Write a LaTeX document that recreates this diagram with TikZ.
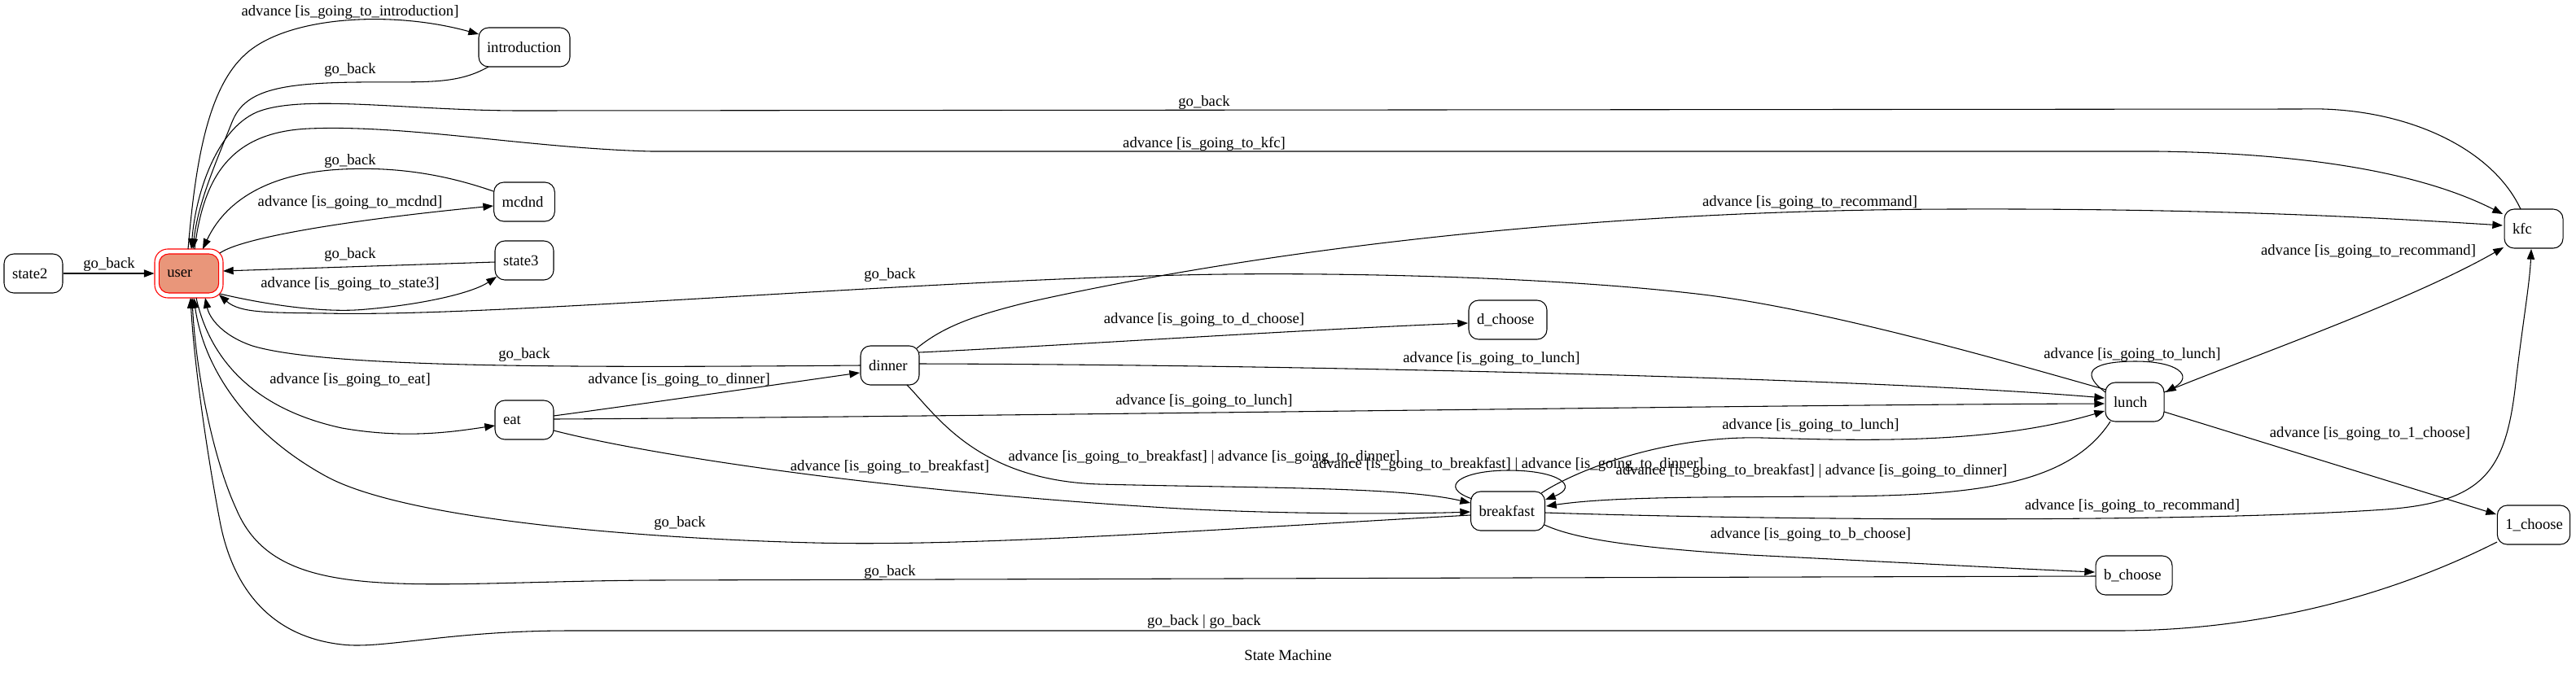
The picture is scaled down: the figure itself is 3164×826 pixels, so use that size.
\documentclass[tikz,border=0pt]{standalone}
\usepackage{fontspec}
\setmainfont{Liberation Serif}
\usetikzlibrary{arrows.meta,calc}
\definecolor{salmonfill}{HTML}{E9967A}
\newcommand\fs{\fontsize{14}{16}\selectfont}
\tikzset{
  st/.style={draw, line width=0.8pt, rounded corners=9pt, minimum height=36pt,
    inner xsep=7.5pt, inner ysep=0pt, align=left, text width=#1, font=\fs},
  st/.default=39pt,
  arr/.style={line width=0.8pt, -{Triangle[length=9.5pt,width=7pt]}},
  lbl/.style={font=\fs, inner sep=0pt},
}
\begin{document}
\begin{tikzpicture}[x=0.75pt, y=-0.75pt]
\useasboundingbox (0,0) rectangle (3164,826);
% nodes
\node[st] (state2) at (41,336) {state2};
\node[draw=red, line width=0.8pt, rounded corners=12pt, minimum width=63pt, minimum height=45pt] (user) at (232,336) {};
\node[st=40pt, draw=red, fill=salmonfill] (userin) at (232,336) {user};
\node[st=69pt] (intro) at (644,58) {introduction};
\node[st=41pt] (mcdnd) at (644,248) {mcdnd};
\node[st] (state3) at (644,320) {state3};
\node[st] (eat) at (644,516) {eat};
\node[st] (dinner) at (1093,449) {dinner};
\node[st=57pt] (dchoose) at (1852,393) {d\_choose};
\node[st=53.25pt] (breakfast) at (1852,628) {breakfast};
\node[st] (lunch) at (2622,494) {lunch};
\node[st] (kfc) at (3112,281) {kfc};
\node[st=52pt] (lchoose) at (3112,645) {1\_choose};
\node[st=55.5pt] (bchoose) at (2621,707) {b\_choose};

% edges
\draw[arr] ($(user.center)+(-1,-30)$) .. controls (240,200) and (255,110) .. (300,68) .. controls (350,20) and (480,12) .. ($(intro.center)+(-56,-16)$);
\draw[arr] ($(intro.center)+(-44,24)$) .. controls (560,105) and (520,100) .. (440,101) .. controls (340,102) and (300,112) .. (285,150) .. controls (265,200) and (243,250) .. ($(user.center)+(5,-30)$);
\draw[arr] ($(kfc.center)+(-16,-24)$) .. controls (3060,180) and (2950,130) .. (2826,134) -- (640,136) .. controls (500,136) and (370,115) .. (315,138) .. controls (265,160) and (240,240) .. ($(user.center)+(3,-30)$);
\draw[arr] ($(user.center)+(7,-30)$) .. controls (250,215) and (285,162) .. (380,158) .. controls (500,153) and (650,182) .. (800,186) -- (2650,186) .. controls (2800,188) and (2960,205) .. ($(kfc.center)+(-38,-18)$);
\draw[arr] ($(mcdnd.center)+(-38,-13)$) .. controls (540,212) and (480,205) .. (420,208) .. controls (340,212) and (280,240) .. ($(user.center)+(17,-30)$);
\draw[arr] ($(user.center)+(38,-25)$) .. controls (300,290) and (450,268) .. ($(mcdnd.center)+(-38,5)$);
\draw[arr] ($(state3.center)+(-36,2)$) -- ($(user.center)+(42,-3)$);
\draw[arr] ($(user.center)+(38,25)$) .. controls (330,375) and (400,385) .. (450,380) .. controls (520,374) and (580,360) .. ($(state3.center)+(-34,20)$);
\draw[arr] (state2.east) -- (user.west);
\draw[arr] ($(lunch.center)+(-35,-15)$) .. controls (2450,440) and (2250,383) .. (2100,363) .. controls (1900,338) and (1600,334) .. (1450,338) .. controls (1100,346) and (600,390) .. (400,385) .. controls (330,384) and (295,385) .. ($(user.center)+(37,26)$);
\draw[arr] ($(dinner.center)+(33,-21)$) .. controls (1160,400) and (1200,387) .. (1260,372) .. controls (1500,318) and (1900,258) .. (2400,257) .. controls (2700,256) and (2900,266) .. ($(kfc.center)+(-38,-4)$);
\draw[arr] ($(lunch.center)+(36,-12)$) .. controls (2760,440) and (2960,370) .. ($(kfc.center)+(-37,23)$);
\draw[arr] ($(lunch.center)+(-36,-12)$) .. controls (2550,455) and (2575,444) .. (2623,444) .. controls (2675,444) and (2695,462) .. ($(lunch.center)+(38,-12)$);
\draw[arr] ($(dinner.center)+(36,-16)$) .. controls (1300,425) and (1600,405) .. ($(dchoose.center)+(-49,4)$);
\draw[arr] ($(dinner.center)+(36,-2)$) .. controls (1600,448) and (2300,465) .. ($(lunch.center)+(-37,-5)$);
\draw[arr] ($(user.center)+(9,30)$) .. controls (255,430) and (300,500) .. (420,526) .. controls (500,540) and (560,530) .. ($(eat.center)+(-36,7)$);
\draw[arr] ($(dinner.center)+(-36,0)$) .. controls (700,452) and (400,452) .. (310,425) .. controls (272,412) and (257,390) .. ($(user.center)+(20,30)$);
\draw[arr] ($(eat.center)+(36,-5)$) .. controls (800,495) and (950,473) .. ($(dinner.center)+(-37,9)$);
\draw[arr] ($(eat.center)+(36,-1)$) .. controls (1200,512) and (2200,497) .. ($(lunch.center)+(-37,2)$);
\draw[arr] ($(eat.center)+(36,13)$) .. controls (800,560) and (1100,605) .. (1450,625) .. controls (1600,633) and (1750,631) .. ($(breakfast.center)+(-46,1)$);
\draw[arr] ($(dinner.center)+(21,24)$) .. controls (1150,510) and (1200,590) .. (1350,595) .. controls (1550,600) and (1720,598) .. ($(breakfast.center)+(-46,-10)$);
\draw[arr] ($(breakfast.center)+(-44,-15)$) .. controls (1765,598) and (1795,578) .. (1853,578) .. controls (1915,578) and (1940,598) .. ($(breakfast.center)+(46,-14)$);
\draw[arr] ($(lunch.center)+(-30,24)$) .. controls (2540,598) and (2420,609) .. (2250,610) .. controls (2100,611) and (1980,610) .. ($(breakfast.center)+(47,-6)$);
\draw[arr] ($(breakfast.center)+(41,-22)$) .. controls (1940,575) and (2050,535) .. (2165,538) .. controls (2300,542) and (2450,545) .. ($(lunch.center)+(-37,11)$);
\draw[arr] ($(breakfast.center)+(46,2)$) .. controls (2200,640) and (2700,642) .. (2930,626) .. controls (3050,617) and (3078,580) .. (3090,470) .. controls (3098,400) and (3107,350) .. ($(kfc.center)+(-3,25)$);
\draw[arr] ($(lunch.center)+(36,12)$) -- ($(lchoose.center)+(-46,-13)$);
\draw[arr] ($(breakfast.center)+(45,17)$) .. controls (1930,660) and (1990,672) .. (2150,682) .. controls (2350,692) and (2480,699) .. ($(bchoose.center)+(-48,-4)$);
\draw[arr] ($(bchoose.center)+(-47,1)$) -- (800,713) .. controls (500,715) and (340,745) .. (290,625) .. controls (260,560) and (240,450) .. ($(user.center)+(4,30)$);
\draw[arr] ($(lchoose.center)+(-45,21)$) .. controls (2960,720) and (2800,775) .. (2600,775) -- (700,775) .. controls (550,775) and (470,798) .. (420,792) .. controls (330,782) and (285,720) .. (270,640) .. controls (252,545) and (238,440) .. ($(user.center)+(2,30)$);
\draw[arr] ($(breakfast.center)+(-46,5)$) .. controls (1500,650) and (1200,672) .. (1000,667) .. controls (800,662) and (500,640) .. (400,585) .. controls (300,530) and (250,450) .. ($(user.center)+(6,30)$);

% labels
\node[lbl] (l1) at (430,15) {advance [is\_going\_to\_introduction]};
\node[lbl] (l2) at (430,86) {go\_back};
\node[lbl] (l3) at (1479,126) {go\_back};
\node[lbl] (l4) at (1479,177) {advance [is\_going\_to\_kfc]};
\node[lbl] (l5) at (430,198) {go\_back};
\node[lbl] (l6) at (430,249) {advance [is\_going\_to\_mcdnd]};
\node[lbl] (l7) at (430,313) {go\_back};
\node[lbl] (l8) at (430,349) {advance [is\_going\_to\_state3]};
\node[lbl] (l9) at (134,325) {go\_back};
\node[lbl] (l10) at (1093,338) {go\_back};
\node[lbl] (l11) at (2223,249) {advance [is\_going\_to\_recommand]};
\node[lbl] (l12) at (2909,309) {advance [is\_going\_to\_recommand]};
\node[lbl] (l13) at (1479,393) {advance [is\_going\_to\_d\_choose]};
\node[lbl] (l14) at (1832,441) {advance [is\_going\_to\_lunch]};
\node[lbl] (l15) at (430,467) {advance [is\_going\_to\_eat]};
\node[lbl] (l16) at (644,436) {go\_back};
\node[lbl] (l17) at (834,467) {advance [is\_going\_to\_dinner]};
\node[lbl] (l18) at (1479,493) {advance [is\_going\_to\_lunch]};
\node[lbl] (l19) at (1093,574) {advance [is\_going\_to\_breakfast]};
\node[lbl] (l20) at (1479,562) {advance [is\_going\_to\_breakfast] | advance [is\_going\_to\_dinner]};
\node[lbl] (l21) at (1852,571) {advance [is\_going\_to\_breakfast] | advance [is\_going\_to\_dinner]};
\node[lbl] (l22) at (2225,579) {advance [is\_going\_to\_breakfast] | advance [is\_going\_to\_dinner]};
\node[lbl] (l23) at (2224,523) {advance [is\_going\_to\_lunch]};
\node[lbl] (l24) at (2619,436) {advance [is\_going\_to\_lunch]};
\node[lbl] (l25) at (2619,622) {advance [is\_going\_to\_recommand]};
\node[lbl] (l26) at (2911,533) {advance [is\_going\_to\_1\_choose]};
\node[lbl] (l27) at (2224,657) {advance [is\_going\_to\_b\_choose]};
\node[lbl] (l28) at (835,643) {go\_back};
\node[lbl] (l29) at (1093,703) {go\_back};
\node[lbl] (l30) at (1479,764) {go\_back | go\_back};
\node[lbl] (title) at (1582,805) {State Machine};
\end{tikzpicture}
\end{document}
